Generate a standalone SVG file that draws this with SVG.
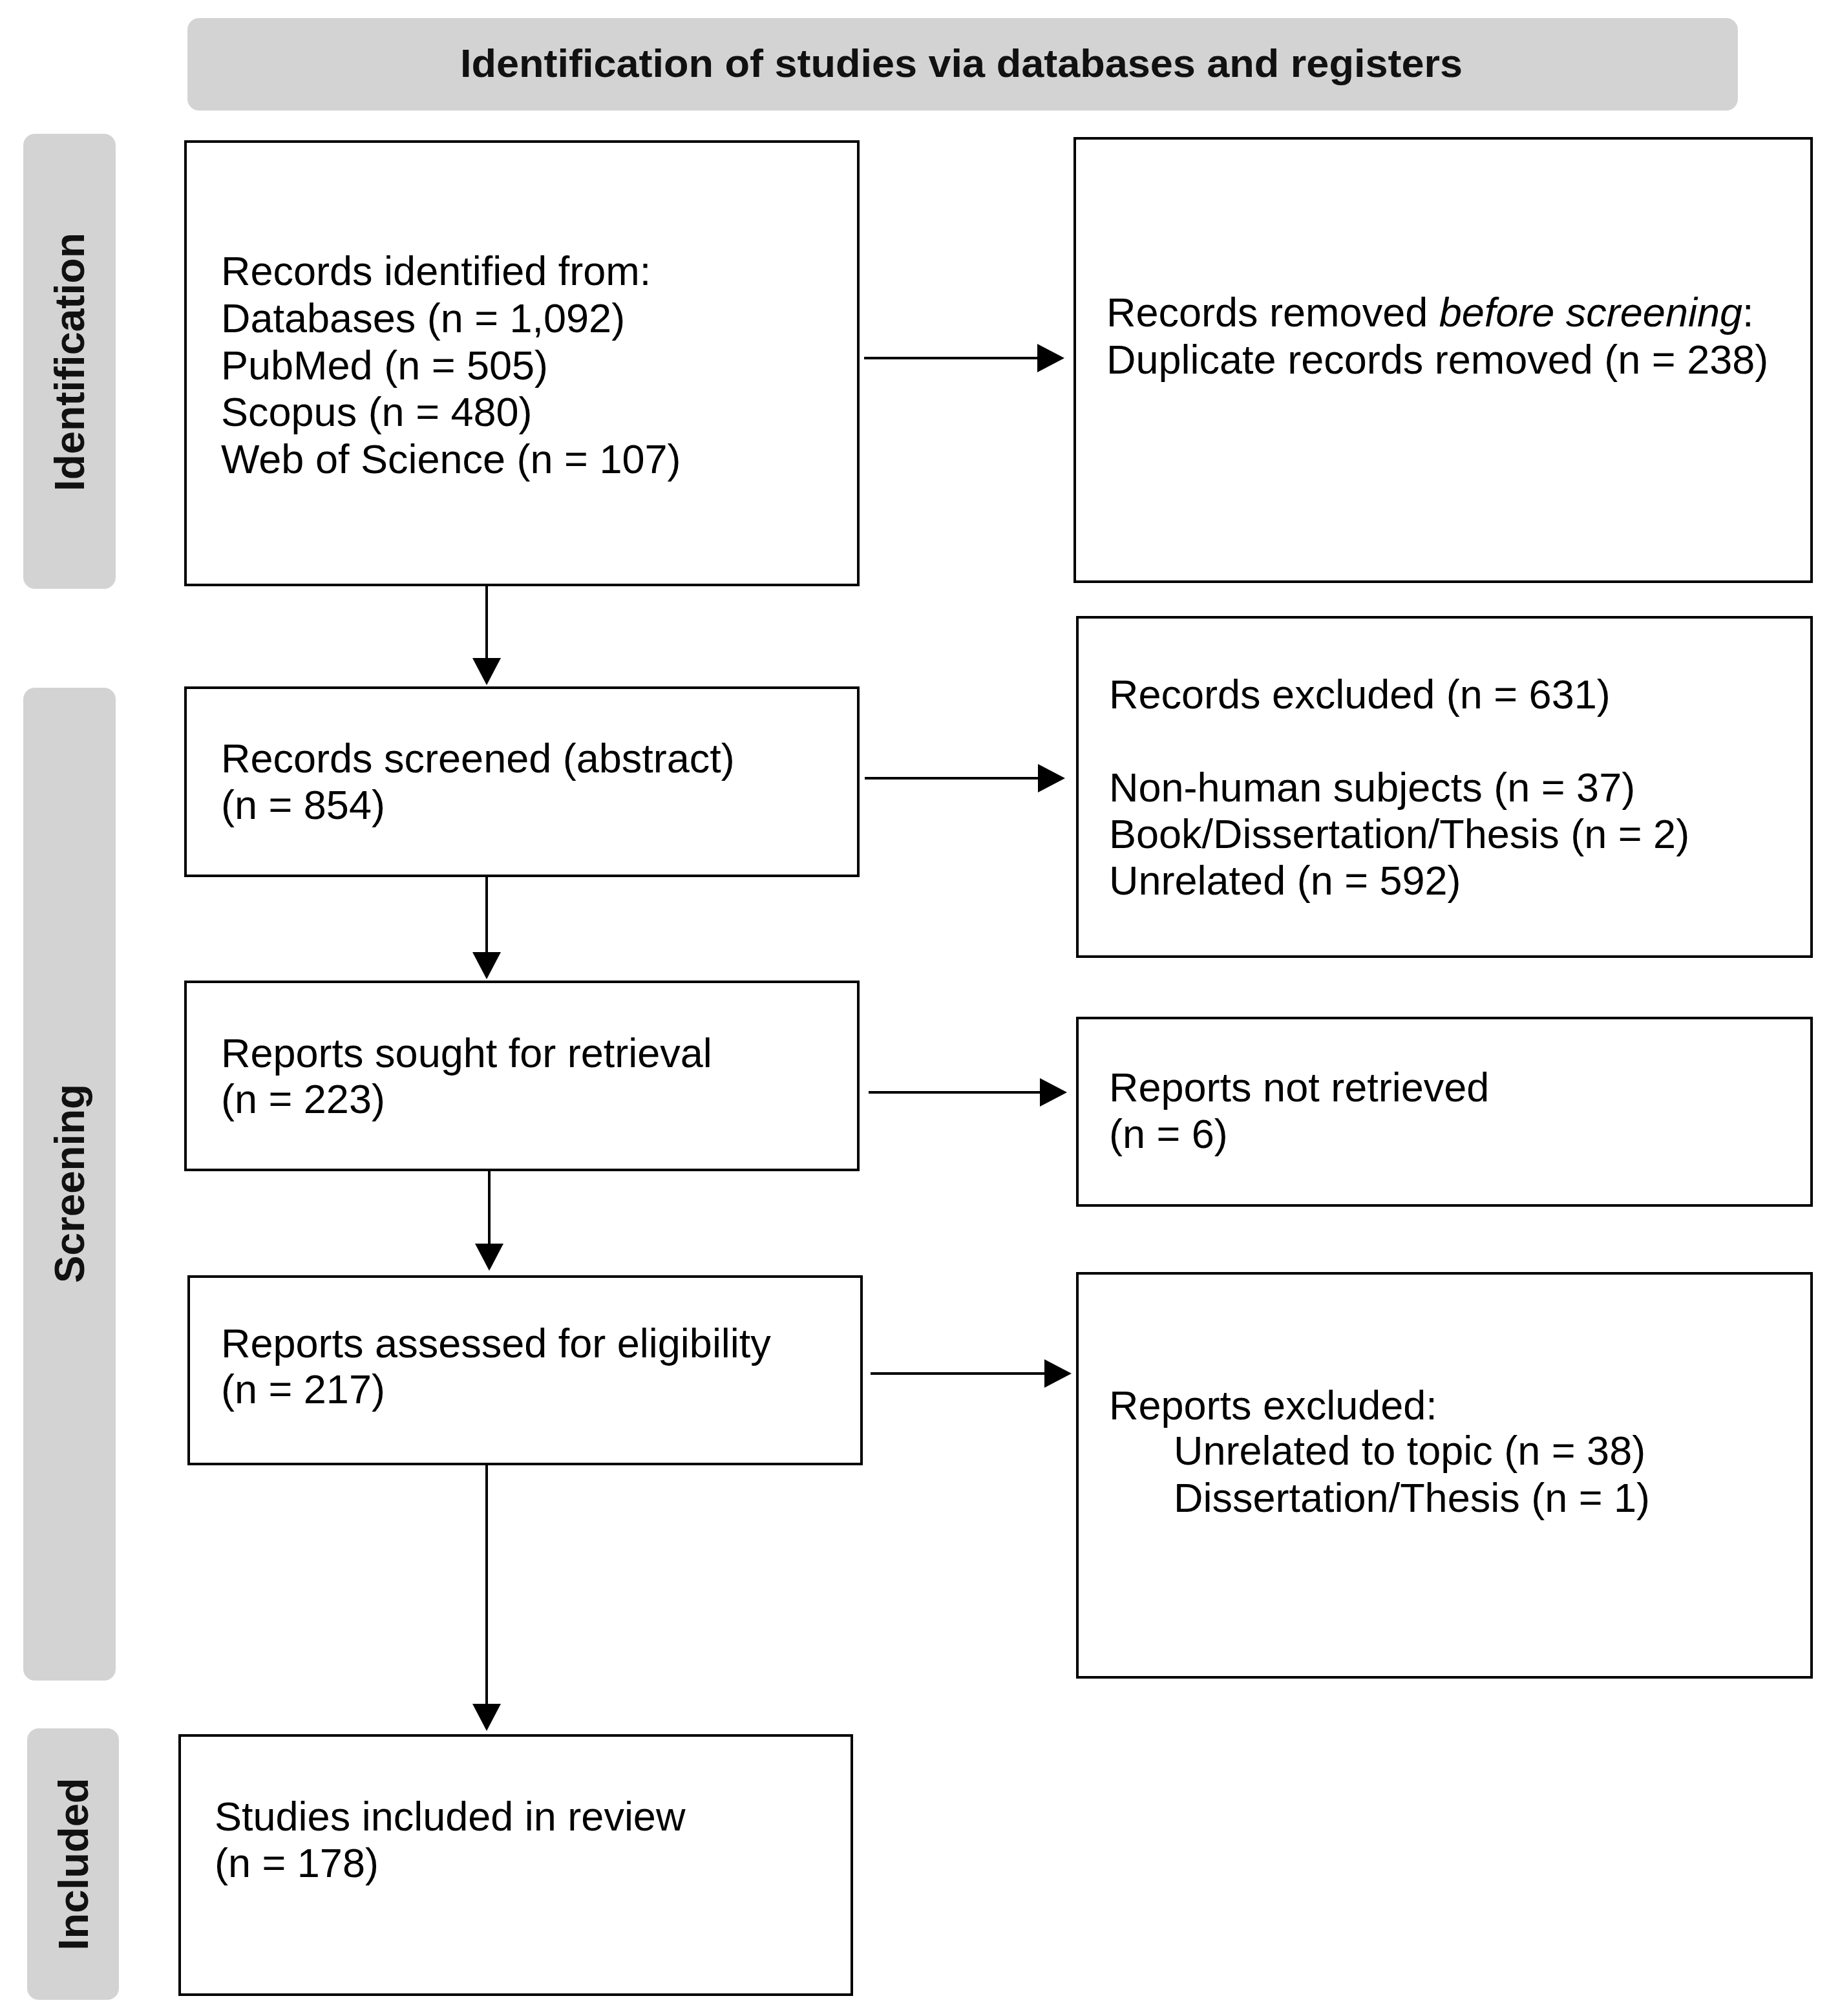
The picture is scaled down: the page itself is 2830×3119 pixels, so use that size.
<svg xmlns="http://www.w3.org/2000/svg" width="2830" height="3119" viewBox="0 0 2830 3119">
<style>
.bar{fill:#d3d3d3;}
.box{fill:#fff;stroke:#000;stroke-width:4;}
.t{font-family:"Liberation Sans",Arial,sans-serif;font-size:63px;fill:#000;}
.h{font-family:"Liberation Sans",Arial,sans-serif;font-size:62px;font-weight:bold;fill:#111;}
.side{font-family:"Liberation Sans",Arial,sans-serif;font-size:64px;font-weight:bold;fill:#111;text-anchor:middle;}
.c{stroke:#000;stroke-width:4;fill:none;}
</style>
<defs>
<marker id="ah" markerUnits="userSpaceOnUse" markerWidth="42" markerHeight="44" refX="32" refY="22" orient="auto">
<path d="M0,0 L42,22 L0,44 z" fill="#000"/>
</marker>
</defs>
<rect width="2830" height="3119" fill="#fff"/>
<g id="header">
<rect class="bar" x="290" y="28" width="2399" height="143" rx="18"/>
<text class="h" x="712" y="119" textLength="1551" lengthAdjust="spacingAndGlyphs">Identification of studies via databases and registers</text>
</g>
<g id="phase-identification">
<rect class="bar" x="36" y="207" width="143" height="704" rx="18"/>
<text class="side" transform="translate(130,560) rotate(-90)" textLength="400" lengthAdjust="spacingAndGlyphs">Identification</text>
</g>
<g id="phase-screening">
<rect class="bar" x="36" y="1064" width="143" height="1536" rx="18"/>
<text class="side" transform="translate(130,1831) rotate(-90)" textLength="308" lengthAdjust="spacingAndGlyphs">Screening</text>
</g>
<g id="phase-included">
<rect class="bar" x="42" y="2674" width="142" height="420" rx="18"/>
<text class="side" transform="translate(136,2884) rotate(-90)" textLength="267" lengthAdjust="spacingAndGlyphs">Included</text>
</g>
<g id="records-identified">
<rect class="box" x="287" y="219" width="1041" height="686"/>
<text class="t" x="342" y="441">Records identified from:</text>
<text class="t" x="342" y="514">Databases (n = 1,092)</text>
<text class="t" x="342" y="587">PubMed (n = 505)</text>
<text class="t" x="342" y="659">Scopus (n = 480)</text>
<text class="t" x="342" y="732">Web of Science (n = 107)</text>
</g>
<g id="records-removed">
<rect class="box" x="1663" y="214" width="1140" height="686"/>
<text class="t" x="1712" y="505">Records removed <tspan font-style="italic">before screening</tspan>:</text>
<text class="t" x="1712" y="578">Duplicate records removed (n = 238)</text>
</g>
<g id="records-screened">
<rect class="box" x="287" y="1064" width="1041" height="291"/>
<text class="t" x="342" y="1195">Records screened (abstract)</text>
<text class="t" x="342" y="1267">(n = 854)</text>
</g>
<g id="records-excluded">
<rect class="box" x="1667" y="955" width="1136" height="525"/>
<text class="t" x="1716" y="1096">Records excluded (n = 631)</text>
<text class="t" x="1716" y="1240">Non-human subjects (n = 37)</text>
<text class="t" x="1716" y="1312">Book/Dissertation/Thesis (n = 2)</text>
<text class="t" x="1716" y="1384">Unrelated (n = 592)</text>
</g>
<g id="reports-sought">
<rect class="box" x="287" y="1519" width="1041" height="291"/>
<text class="t" x="342" y="1651">Reports sought for retrieval</text>
<text class="t" x="342" y="1722">(n = 223)</text>
</g>
<g id="reports-not-retrieved">
<rect class="box" x="1667" y="1575" width="1136" height="290"/>
<text class="t" x="1716" y="1704">Reports not retrieved</text>
<text class="t" x="1716" y="1776">(n = 6)</text>
</g>
<g id="reports-assessed">
<rect class="box" x="292" y="1975" width="1041" height="290"/>
<text class="t" x="342" y="2100">Reports assessed for eligibility</text>
<text class="t" x="342" y="2171">(n = 217)</text>
</g>
<g id="reports-excluded">
<rect class="box" x="1667" y="1970" width="1136" height="625"/>
<text class="t" x="1716" y="2196">Reports excluded:</text>
<text class="t" x="1816" y="2266">Unrelated to topic (n = 38)</text>
<text class="t" x="1816" y="2339">Dissertation/Thesis (n = 1)</text>
</g>
<g id="studies-included">
<rect class="box" x="278" y="2685" width="1040" height="401"/>
<text class="t" x="332" y="2832">Studies included in review</text>
<text class="t" x="332" y="2904">(n = 178)</text>
</g>
<g id="connectors">
<line class="c" x1="1337" y1="554" x2="1637" y2="554" marker-end="url(#ah)"/>
<line class="c" x1="1338" y1="1204" x2="1638" y2="1204" marker-end="url(#ah)"/>
<line class="c" x1="1344" y1="1690" x2="1641" y2="1690" marker-end="url(#ah)"/>
<line class="c" x1="1347" y1="2125" x2="1648" y2="2125" marker-end="url(#ah)"/>
<line class="c" x1="753" y1="907" x2="753" y2="1050" marker-end="url(#ah)"/>
<line class="c" x1="753" y1="1357" x2="753" y2="1505" marker-end="url(#ah)"/>
<line class="c" x1="757" y1="1812" x2="757" y2="1956" marker-end="url(#ah)"/>
<line class="c" x1="753" y1="2267" x2="753" y2="2668" marker-end="url(#ah)"/>
</g>
</svg>
